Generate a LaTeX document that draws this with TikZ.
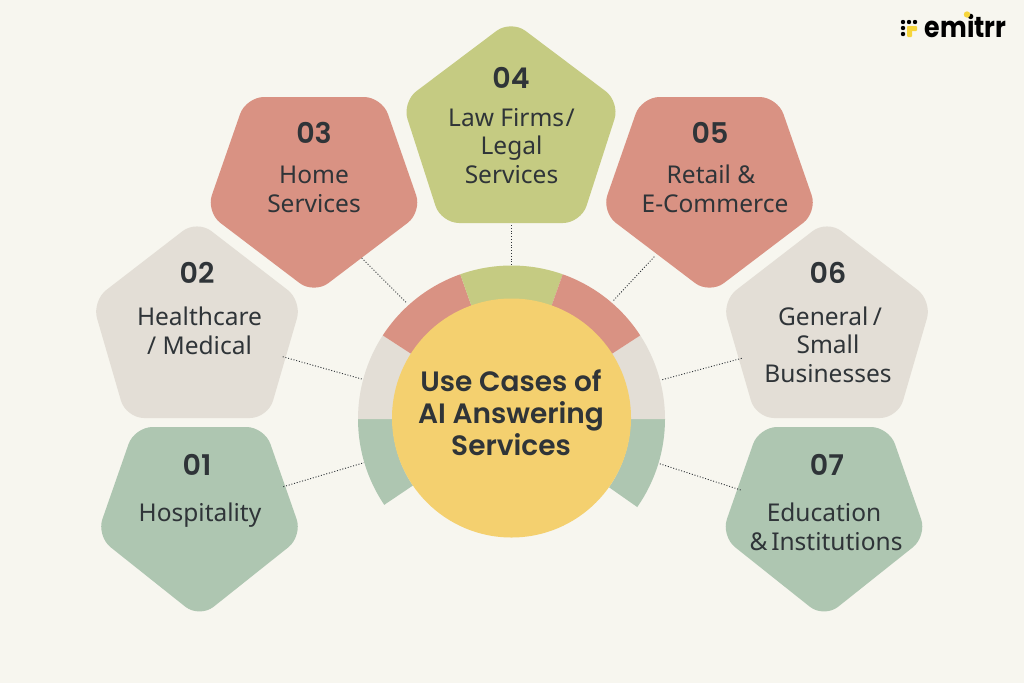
\documentclass[tikz,border=0pt]{standalone}
\usepackage{fontspec}
\setmainfont{Noto Sans}
\newfontfamily\numfont{Poppins SemiBold}
\newfontfamily\titlefont{Poppins SemiBold}
\newfontfamily\logofont{Poppins}[FakeStretch=0.87]
\usetikzlibrary{calc}
\definecolor{bgc}{HTML}{F7F6EF}
\definecolor{sage}{HTML}{AEC6B1}
\definecolor{stone}{HTML}{E3DED6}
\definecolor{coral}{HTML}{D99283}
\definecolor{olive}{HTML}{C5CB82}
\definecolor{sun}{HTML}{F4D06F}
\definecolor{ink}{HTML}{2F3438}
\definecolor{logoy}{HTML}{F6D53B}
\tikzset{
  pent/.style={rounded corners=18pt},
  numlab/.style={anchor=base,inner sep=0pt,text=ink,font=\numfont\fontsize{28.5}{28}\selectfont},
  lab/.style={anchor=base,inner sep=0pt,text=ink,align=center,font=\fontsize{24.5}{28.3}\selectfont},
  ttl/.style={anchor=base,inner sep=0pt,text=ink,align=center,font=\titlefont\fontsize{28}{32}\selectfont},
  conn/.style={draw=ink,line width=0.9pt,dash pattern=on 1pt off 1.8pt},
  dotk/.style={fill=black,draw=none,circle,inner sep=0pt,minimum size=4.4pt},
}
% #1 colour, #2 cx, #3 top, #4 side y, #5 bottom, #6 half top, #7 half side
\newcommand{\pentdown}[7]{\fill[#1,pent] ({#2-#6},#3) -- ({#2+#6},#3) -- ({#2+#7},#4) -- (#2,#5) -- ({#2-#7},#4) -- cycle;}
% #1 colour, #2 cx, #3 apex, #4 side y, #5 bottom, #6 half bottom, #7 half side
\newcommand{\pentup}[7]{\fill[#1,pent] (#2,#3) -- ({#2+#7},#4) -- ({#2+#6},#5) -- ({#2-#6},#5) -- ({#2-#7},#4) -- cycle;}
\newcommand{\ringseg}[3]{\fill[#1] ($(hub)+(#2:153.5)$) arc[start angle=#2,end angle=#3,radius=153.5] -- ($(hub)+(#3:119)$) arc[start angle=#3,end angle=#2,radius=119] -- cycle;}
\begin{document}
\begin{tikzpicture}[x=1pt,y=-1pt]
\useasboundingbox (0,0) rectangle (1024,683);
\fill[bgc] (0,0) rectangle (1024,683);
\coordinate (hub) at (511.5,419);
% ring (angles measured clockwise on screen, y axis points down)
\ringseg{sage}{0}{35}
\ringseg{sage}{146}{180}
\ringseg{stone}{-33}{0}
\ringseg{stone}{-180}{-147}
\ringseg{coral}{-147}{-109.5}
\ringseg{olive}{-109.5}{-70.5}
\ringseg{coral}{-70.5}{-33}
% pentagons
\pentdown{sage}{199.5}{427}{536}{618}{65}{103}
\pentup{stone}{197}{220}{301}{418}{71}{105}
\pentdown{coral}{314}{97}{212}{294}{68}{108}
\pentup{olive}{511}{20}{102}{223}{70}{109}
\pentdown{coral}{709.5}{97}{212}{294}{68}{108}
\pentup{stone}{827}{220}{301}{418}{71}{105}
\pentdown{sage}{824}{427}{536}{618}{65}{103}
% centre
\node[circle,fill=sun,minimum size=239pt,inner sep=0pt] (centre) at (511.5,418) {};
\node[ttl] (title) at (511,455) {Use Cases of\\AI Answering\\Services};
% numbers
\node[numlab] (n1) at (197,475) {01};
\node[numlab] (n2) at (197,283) {02};
\node[numlab] (n3) at (314,143) {03};
\node[numlab] (n4) at (511,88) {04};
\node[numlab] (n5) at (710,143) {05};
\node[numlab] (n6) at (828,283) {06};
\node[numlab] (n7) at (827,475) {07};
% labels
\node[lab] (l1) at (200,521) {Hospitality};
\node[lab] (l2) at (199.5,354) {Healthcare\\/ Medical};
\node[lab] (l3) at (314,212) {Home\\Services};
\node[lab] (l4) at (511.5,183) {Law Firms\kern1.5pt/\\Legal\\Services};
\node[lab] (l5) at (715,212) {Retail \&\hspace*{8pt}\\E-Commerce};
\node[lab] (l6) at (828,382) {\hspace*{4pt}General\kern-2pt\ /\\Small\\Businesses};
\node[lab] (l7) at (826,550) {Education\hspace*{4pt}\\\&\kern-2.5pt\ Institutions};
% connector ends
\coordinate (a1) at (283.3,486.7); \coordinate (b1) at (364,462.7);
\coordinate (a2) at (282.7,356.7); \coordinate (b2) at (361.7,379);
\coordinate (a3) at (361.7,258);   \coordinate (b3) at (406.7,303);
\coordinate (a4) at (511.5,225);   \coordinate (b4) at (511.5,265);
\coordinate (a5) at (654.3,256.7); \coordinate (b5) at (612.3,301.7);
\coordinate (a6) at (741.7,358.3); \coordinate (b6) at (661,380);
\coordinate (a7) at (740.7,490);   \coordinate (b7) at (658.3,463.3);
\foreach \i in {1,...,7} {\draw[conn] (a\i) -- (b\i);}
% logo
\node[anchor=base,inner sep=0pt,text=black,font=\logofont\bfseries\fontsize{29}{29}\selectfont] (logo) at (965.5,37) {emitrr};
\fill[logoy] (967,14.5) circle (3.2pt);
\foreach \x/\y in {903/22,909/22,915/22,903/28,903/34} {\node[dotk] at (\x,\y) {};}
\fill[logoy,rounded corners=1pt] (907,26) rectangle (917,31);
\fill[logoy,rounded corners=1pt] (907,26) rectangle (912,37);
\end{tikzpicture}
\end{document}
